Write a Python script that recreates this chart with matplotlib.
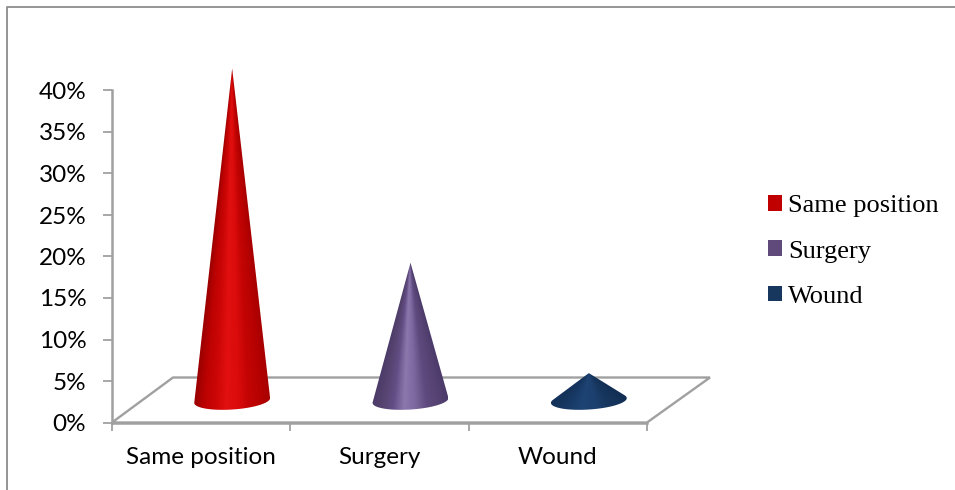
import numpy as np
import matplotlib
matplotlib.use("Agg")
import matplotlib.pyplot as plt
from matplotlib.colors import LinearSegmentedColormap
from matplotlib.lines import Line2D
from matplotlib.patches import Patch, PathPatch, Polygon
from matplotlib.path import Path

categories = ["Same position", "Surgery", "Wound"]
values = [40, 16.6, 3.3]
y_ticks = [0, 5, 10, 15, 20, 25, 30, 35, 40]
legend_colors = ["#C00000", "#604A7B", "#17375E"]
# left-to-right surface shades of each cone
cone_shades = [
    ["#980000", "#BC0202", "#CC0606", "#E21010", "#DC0C0C", "#C40404", "#B80202", "#A80000"],
    ["#4A3968", "#56436F", "#624E84", "#8D78AE", "#7C679E", "#5E4A7E", "#574474", "#4C3B6A"],
    ["#12305A", "#15345C", "#183A66", "#1E4474", "#1C4070", "#17375F", "#15335A", "#122E54"],
]

W, H = 955, 490
AX_L, AX_R, AX_TOP, AX_BOT = 112, 647, 90.5, 422.5
GREY = "#A0A0A0"

fig = plt.figure(figsize=(W / 100, H / 100), dpi=100)
ax = fig.add_axes([AX_L / W, 1 - AX_BOT / H, (AX_R - AX_L) / W, (AX_BOT - AX_TOP) / H])
ax.set_xlim(0, len(categories))
ax.set_ylim(0, 40)

px_x = len(categories) / (AX_R - AX_L)   # data units per pixel, horizontal
px_y = 40 / (AX_BOT - AX_TOP)            # data units per pixel, vertical

# outer chart frame, open on the right and at the bottom
fig.add_artist(Line2D([7 / W, 7 / W, 1], [0, 1 - 7 / H, 1 - 7 / H],
                      color="#8C8C8C", lw=1.3, transform=fig.transFigure))

# perspective floor
depth_x, depth_y = 61 * px_x, 45 * px_y
floor = Polygon([(0, 0), (depth_x, depth_y), (3 + 63 * px_x, depth_y), (3, 0)],
                closed=True, fc="white", ec=GREY, lw=1.7, clip_on=False, zorder=1)
ax.add_patch(floor)

# cones sit part way back on the floor
base_dx, base_dy = 31 * px_x, 22 * px_y
semi_a, semi_b, tilt = 38.0, 9.0, np.radians(3.8)

for i, (value, shades) in enumerate(zip(values, cone_shades)):
    cx = i + 0.5 + base_dx
    tip_px = np.array([0.0, value / px_y])
    t = np.linspace(0, 2 * np.pi, 721)[:-1]
    ex, ey = semi_a * np.cos(t), semi_b * np.sin(t)
    ox = ex * np.cos(tilt) - ey * np.sin(tilt)
    oy = ex * np.sin(tilt) + ey * np.cos(tilt)
    nx_l, ny_l = np.cos(t) / semi_a, np.sin(t) / semi_b
    nx = nx_l * np.cos(tilt) - ny_l * np.sin(tilt)
    ny = nx_l * np.sin(tilt) + ny_l * np.cos(tilt)
    far = (ox - tip_px[0]) * nx + (oy - tip_px[1]) * ny >= 0
    # walk the visible arc from the left tangent point to the right one
    start = np.where(far & ~np.roll(far, 1))[0][0]
    order = np.roll(np.arange(t.size), -start)
    order = order[far[order]]
    xs = cx + ox[order] * px_x
    ys = base_dy + oy[order] * px_y
    verts = np.column_stack([np.r_[cx, xs, cx], np.r_[base_dy + value, ys, base_dy + value]])
    codes = [Path.MOVETO] + [Path.LINETO] * (len(verts) - 2) + [Path.CLOSEPOLY]
    outline = PathPatch(Path(verts, codes), fc="none", ec="none", transform=ax.transData)
    ax.add_patch(outline)

    # shading follows the cone's surface, so it narrows towards the apex
    y0, y1 = base_dy - 12 * px_y, base_dy + value
    gx = np.linspace(-semi_a, semi_a, 300)
    gy = np.linspace(y0, y1, 500)
    frac = np.clip((y1 - gy) / value, 0.004, None)
    shade = np.clip(gx[None, :] / (semi_a * frac[:, None]), -1, 1) * 0.5 + 0.5
    cmap = LinearSegmentedColormap.from_list(f"cone{i}", shades)
    img = ax.imshow(shade, cmap=cmap, vmin=0, vmax=1, aspect="auto", origin="lower",
                    extent=[cx - semi_a * px_x, cx + semi_a * px_x, y0, y1],
                    zorder=3, interpolation="bilinear")
    img.set_clip_path(outline)
    img.set_clip_box(fig.bbox)

ax.set_xlim(0, len(categories))
ax.set_ylim(0, 40)

for side in ("top", "right"):
    ax.spines[side].set_visible(False)
for side in ("left", "bottom"):
    ax.spines[side].set_color(GREY)
    ax.spines[side].set_linewidth(1.8)
    ax.spines[side].set_zorder(2)

ax.patch.set_alpha(0)
ax.set_yticks(y_ticks)
ax.set_yticklabels([f"{v}%" for v in y_ticks], family="Lato", fontsize=17.5, color="black")
ax.set_xticks(range(len(categories) + 1))
ax.set_xticklabels([])
ax.set_xticks([i + 0.5 for i in range(len(categories))], labels=categories, minor=True,
              family="Lato", fontsize=17.5, color="black")
ax.tick_params(axis="y", length=6.5, width=1.3, color=GREY, pad=12)
ax.tick_params(axis="x", which="major", length=6, width=1.3, color=GREY)
ax.tick_params(axis="x", which="minor", length=0, pad=17.5)

handles = [Patch(fc=c, ec="none", label=n) for c, n in zip(legend_colors, categories)]
leg = fig.legend(handles=handles, loc="center left",
                 bbox_to_anchor=(768 / W, 1 - 251.5 / H), borderaxespad=0, borderpad=0,
                 frameon=False, handlelength=0.53, handleheight=0.53, handletextpad=0.22,
                 labelspacing=0.88,
                 prop={"family": "Liberation Serif", "size": 19})

fig.savefig("out.png", dpi=100, facecolor="white")
